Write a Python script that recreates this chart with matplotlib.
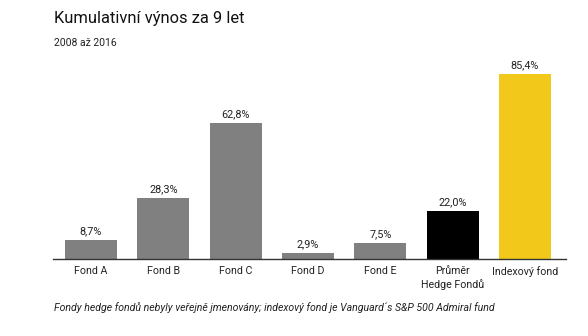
import matplotlib.pyplot as plt

plt.rcParams['font.family'] = ['Roboto', 'DejaVu Sans']

# kumulativní výnos 2008-2016 v %
funds = ["Fond A", "Fond B", "Fond C", "Fond D", "Fond E", "Průměr\nHedge Fondů", "Indexový fond"]
returns = [8.7, 28.3, 62.8, 2.9, 7.5, 22.0, 85.4]
colors = ["#808080"] * 5 + ["#000000", "#F2C81A"]

fig = plt.figure(figsize=(5.88, 3.36), dpi=100)
ax = fig.add_axes([53 / 588, 77 / 336, 513 / 588, 185 / 336])

x = range(len(funds))
bars = ax.bar(x, returns, width=0.72, color=colors)

for bar, v in zip(bars, returns):
    ax.text(bar.get_x() + bar.get_width() / 2, v + 1.8,
            f"{v:.1f}".replace(".", ",") + "%",
            ha="center", va="bottom", fontsize=7.8, color="#222222", clip_on=False)

ax.set_xlim(-0.526, len(funds) - 1 + 0.567)
ax.set_ylim(0, 85.4)
ax.set_xticks(list(x))
ax.set_xticklabels(funds, fontsize=7.7, color="#222222", linespacing=1.3)
ax.tick_params(axis="x", length=0, pad=5)
ax.set_yticks([])
for side in ["top", "right", "left"]:
    ax.spines[side].set_visible(False)
ax.spines["bottom"].set_color("#333333")
ax.spines["bottom"].set_linewidth(1)

fig.text(54 / 588, 1 - 18 / 336, "Kumulativní výnos za 9 let", fontsize=11.9,
         color="#111111", va="center", ha="left")
fig.text(54 / 588, 1 - 43 / 336, "2008 až 2016", fontsize=7.5,
         color="#222222", va="center", ha="left")
fig.text(54 / 588, 1 - 308 / 336,
         "Fondy hedge fondů nebyly veřejně jmenovány; indexový fond je Vanguard´s S&P 500 Admiral fund",
         fontsize=7.6, style="italic", color="#222222", va="center", ha="left")

fig.savefig("out.png", dpi=100)
